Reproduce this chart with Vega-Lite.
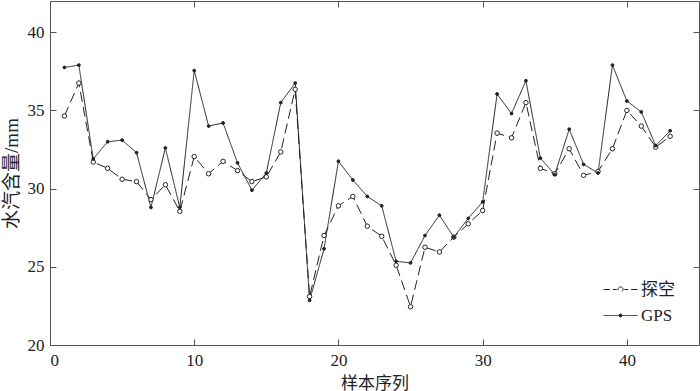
{
  "$schema": "https://vega.github.io/schema/vega-lite/v6.json",
  "width": 649,
  "height": 344,
  "autosize": {"type": "none"},
  "padding": {"left": 50, "top": 1, "right": 1, "bottom": 46},
  "background": "white",
  "config": {
    "view": {"stroke": "#555", "strokeWidth": 1},
    "axis": {
      "grid": false,
      "domain": false,
      "ticks": true,
      "tickSize": 6,
      "offset": -6,
      "tickColor": "#555",
      "tickWidth": 1,
      "labelFont": "Liberation Serif",
      "labelFontSize": 17,
      "labelColor": "#222",
      "titleFont": "Liberation Serif, Noto Sans CJK SC",
      "titleFontSize": 17,
      "titleFontWeight": "normal",
      "titleColor": "#222"
    },
    "legend": {
      "labelFont": "Liberation Serif, Noto Sans CJK SC",
      "labelFontSize": 17,
      "labelColor": "#222"
    }
  },
  "data": {
    "values": [
      {"i": 1, "series": "GPS", "v": 37.75}, {"i": 2, "series": "GPS", "v": 37.9}, {"i": 3, "series": "GPS", "v": 31.9},
      {"i": 4, "series": "GPS", "v": 33.0}, {"i": 5, "series": "GPS", "v": 33.1}, {"i": 6, "series": "GPS", "v": 32.3},
      {"i": 7, "series": "GPS", "v": 28.8}, {"i": 8, "series": "GPS", "v": 32.6}, {"i": 9, "series": "GPS", "v": 28.8},
      {"i": 10, "series": "GPS", "v": 37.55}, {"i": 11, "series": "GPS", "v": 34.0}, {"i": 12, "series": "GPS", "v": 34.2},
      {"i": 13, "series": "GPS", "v": 31.65}, {"i": 14, "series": "GPS", "v": 29.9}, {"i": 15, "series": "GPS", "v": 31.0},
      {"i": 16, "series": "GPS", "v": 35.5}, {"i": 17, "series": "GPS", "v": 36.75}, {"i": 18, "series": "GPS", "v": 22.85},
      {"i": 19, "series": "GPS", "v": 26.15}, {"i": 20, "series": "GPS", "v": 31.75}, {"i": 21, "series": "GPS", "v": 30.55},
      {"i": 22, "series": "GPS", "v": 29.5}, {"i": 23, "series": "GPS", "v": 28.9}, {"i": 24, "series": "GPS", "v": 25.35},
      {"i": 25, "series": "GPS", "v": 25.25}, {"i": 26, "series": "GPS", "v": 27.0}, {"i": 27, "series": "GPS", "v": 28.3},
      {"i": 28, "series": "GPS", "v": 26.9}, {"i": 29, "series": "GPS", "v": 28.1}, {"i": 30, "series": "GPS", "v": 29.15},
      {"i": 31, "series": "GPS", "v": 36.05}, {"i": 32, "series": "GPS", "v": 34.8}, {"i": 33, "series": "GPS", "v": 36.9},
      {"i": 34, "series": "GPS", "v": 31.95}, {"i": 35, "series": "GPS", "v": 30.9}, {"i": 36, "series": "GPS", "v": 33.8},
      {"i": 37, "series": "GPS", "v": 31.55}, {"i": 38, "series": "GPS", "v": 31.0}, {"i": 39, "series": "GPS", "v": 37.9},
      {"i": 40, "series": "GPS", "v": 35.6}, {"i": 41, "series": "GPS", "v": 34.9}, {"i": 42, "series": "GPS", "v": 32.75},
      {"i": 43, "series": "GPS", "v": 33.7},
      {"i": 1, "series": "探空", "v": 34.65}, {"i": 2, "series": "探空", "v": 36.75}, {"i": 3, "series": "探空", "v": 31.7},
      {"i": 4, "series": "探空", "v": 31.3}, {"i": 5, "series": "探空", "v": 30.6}, {"i": 6, "series": "探空", "v": 30.45},
      {"i": 7, "series": "探空", "v": 29.3}, {"i": 8, "series": "探空", "v": 30.25}, {"i": 9, "series": "探空", "v": 28.55},
      {"i": 10, "series": "探空", "v": 32.05}, {"i": 11, "series": "探空", "v": 30.95}, {"i": 12, "series": "探空", "v": 31.75},
      {"i": 13, "series": "探空", "v": 31.15}, {"i": 14, "series": "探空", "v": 30.45}, {"i": 15, "series": "探空", "v": 30.75},
      {"i": 16, "series": "探空", "v": 32.35}, {"i": 17, "series": "探空", "v": 36.35}, {"i": 18, "series": "探空", "v": 23.1},
      {"i": 19, "series": "探空", "v": 27.0}, {"i": 20, "series": "探空", "v": 28.9}, {"i": 21, "series": "探空", "v": 29.5},
      {"i": 22, "series": "探空", "v": 27.6}, {"i": 23, "series": "探空", "v": 26.95}, {"i": 24, "series": "探空", "v": 25.1},
      {"i": 25, "series": "探空", "v": 22.45}, {"i": 26, "series": "探空", "v": 26.25}, {"i": 27, "series": "探空", "v": 25.95},
      {"i": 28, "series": "探空", "v": 26.9}, {"i": 29, "series": "探空", "v": 27.75}, {"i": 30, "series": "探空", "v": 28.6},
      {"i": 31, "series": "探空", "v": 33.55}, {"i": 32, "series": "探空", "v": 33.25}, {"i": 33, "series": "探空", "v": 35.5},
      {"i": 34, "series": "探空", "v": 31.3}, {"i": 35, "series": "探空", "v": 30.95}, {"i": 36, "series": "探空", "v": 32.55},
      {"i": 37, "series": "探空", "v": 30.85}, {"i": 38, "series": "探空", "v": 31.1}, {"i": 39, "series": "探空", "v": 32.55},
      {"i": 40, "series": "探空", "v": 35.0}, {"i": 41, "series": "探空", "v": 34.0}, {"i": 42, "series": "探空", "v": 32.65},
      {"i": 43, "series": "探空", "v": 33.35}
    ]
  },
  "layer": [
    {
      "mark": {"type": "point", "filled": true, "strokeWidth": 1, "size": 1156, "opacity": 0},
      "encoding": {
        "x": {"field": "i", "type": "quantitative", "scale": {"domain": [0, 45], "nice": false},
              "axis": {"orient": "top", "labels": false, "title": null, "values": [0, 10, 20, 30, 40]}},
        "y": {"field": "v", "type": "quantitative", "scale": {"domain": [20, 42], "nice": false, "zero": false},
              "axis": {"orient": "right", "labels": false, "title": null, "values": [20, 25, 30, 35, 40]}},
        "shape": {"field": "series", "type": "nominal",
                  "scale": {"domain": ["探空", "GPS"],
                            "range": ["M-1,0H-0.62M-0.45,0H-0.22M0.22,0H0.45M0.62,0H1M-0.15,0A0.15,0.15 0 1,1 0.15,0A0.15,0.15 0 1,1 -0.15,0Z",
                                      "M-1,0H1M-0.09,0A0.09,0.09 0 1,1 0.09,0A0.09,0.09 0 1,1 -0.09,0Z"]},
                  "legend": {"title": null, "orient": "none", "legendX": 553, "legendY": 271, "symbolSize": 1156,
                             "symbolOpacity": 1, "symbolStrokeWidth": 1,
                             "labelOffset": 3, "rowPadding": -10, "padding": 0}},
        "fill": {"field": "series", "type": "nominal",
                 "scale": {"domain": ["探空", "GPS"], "range": ["white", "#222"]},
                 "legend": {"title": null, "orient": "none", "legendX": 553, "legendY": 271, "symbolOpacity": 1}},
        "stroke": {"field": "series", "type": "nominal",
                   "scale": {"domain": ["探空", "GPS"], "range": ["#222", "#222"]},
                   "legend": {"title": null, "orient": "none", "legendX": 553, "legendY": 271, "symbolOpacity": 1}}
      }
    },
    {
      "mark": {"type": "line", "color": "#222", "strokeWidth": 1},
      "encoding": {
        "x": {"field": "i", "type": "quantitative",
              "axis": {"orient": "bottom", "title": "样本序列", "values": [0, 10, 20, 30, 40], "labelPadding": 7, "titlePadding": 7}},
        "y": {"field": "v", "type": "quantitative",
              "axis": {"orient": "left", "title": "水汽含量/mm", "titleFontSize": 19, "values": [20, 25, 30, 35, 40], "labelPadding": 6, "titlePadding": 6}},
        "strokeDash": {"field": "series", "type": "nominal",
                       "scale": {"domain": ["探空", "GPS"], "range": [[10, 5], [1, 0]]}, "legend": null}
      }
    },
    {
      "transform": [{"filter": {"field": "series", "equal": "探空"}}],
      "mark": {"type": "point", "shape": "circle", "stroke": "#222", "strokeWidth": 1, "fill": "white", "filled": true, "size": 20, "opacity": 1},
      "encoding": {
        "x": {"field": "i", "type": "quantitative", "axis": null},
        "y": {"field": "v", "type": "quantitative", "axis": null}
      }
    },
    {
      "transform": [{"filter": {"field": "series", "equal": "GPS"}}],
      "mark": {"type": "point", "shape": "circle", "stroke": "#222", "strokeWidth": 1, "fill": "#222", "filled": true, "size": 8, "opacity": 1},
      "encoding": {
        "x": {"field": "i", "type": "quantitative", "axis": null},
        "y": {"field": "v", "type": "quantitative", "axis": null}
      }
    }
  ],
  "resolve": {"axis": {"x": "independent", "y": "independent"}}
}
